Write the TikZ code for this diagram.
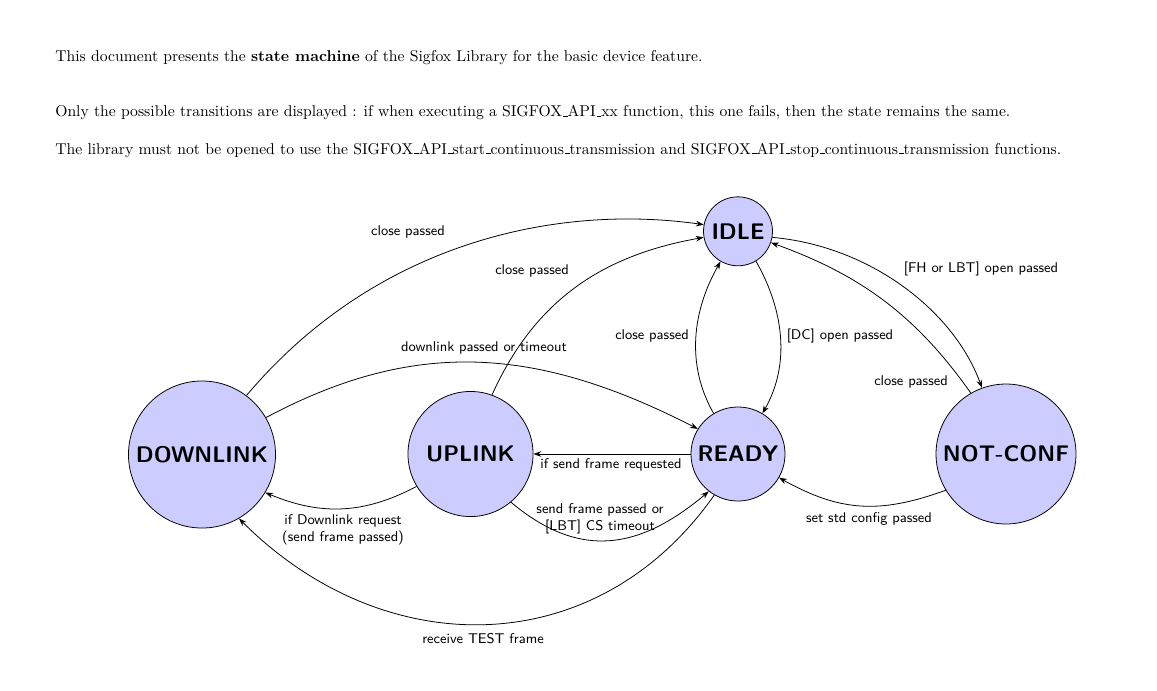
\documentclass[tikz,border=0pt]{standalone}
\usetikzlibrary{arrows.meta}
\newcommand\myus{\leavevmode\kern.06em\vbox{\hrule width.3em}}
\begin{document}
\begin{tikzpicture}[x=0.638pt,y=-0.638pt,
  stnode/.style={circle,draw,line width=0.5pt,fill=blue!20,font=\sffamily\bfseries\Large,inner sep=0pt},
  edge/.style={line width=0.5pt,-{Stealth[length=5pt,width=3.6pt]}},
  lbl/.style={font=\sffamily\small,inner sep=1pt},
  txt/.style={anchor=base west,inner sep=0pt,font=\normalsize}]
\useasboundingbox (0,0) rectangle (1157,690);
% header text
\node[txt] (t1) at (55,61) {This document presents the \textbf{state machine} of the Sigfox Library for the basic device feature.};
\node[txt] (t2) at (55,116.5) {Only the possible transitions are displayed : if when executing a SIGFOX\myus API\myus xx function, this one fails, then the state remains the same.};
\node[txt] (t3) at (55,154) {The library must not be opened to use the SIGFOX\myus API\myus start\myus continuous\myus transmission and SIGFOX\myus API\myus stop\myus continuous\myus transmission functions.};
% states
\node[stnode,minimum size=93.8pt] (D) at (202,454.5) {DOWNLINK};
\node[stnode,minimum size=79.8pt] (U) at (470.5,454) {UPLINK};
\node[stnode,minimum size=60pt] (R) at (738,454) {READY};
\node[stnode,minimum size=44pt] (I) at (738,231.3) {IDLE};
\node[stnode,minimum size=89.3pt] (N) at (1006,454) {NOT-CONF};
% transitions
\draw[edge] (D.53) .. controls +(129,-153) and +(-148,-21) .. (I.169)
  node[lbl] at (408,232) {close passed};
\draw[edge] (U.70) .. controls +(45,-100) and +(-95,17) .. (I.190)
  node[lbl] at (532,271) {close passed};
\draw[edge] (D.30) .. controls +(150,-80) and +(-160,-82) .. (R.148)
  node[lbl] at (484,348) {downlink passed or timeout};
\draw[edge] (R.180) -- (U.0)
  node[lbl] at (611,465) {if send frame requested};
\draw[edge] (U.211) .. controls +(-53,28) and +(55,23) .. (D.329)
  node[lbl,align=center] at (343,530) {if Downlink request\\(send frame passed)};
\draw[edge] (U.310) .. controls +(69,58) and +(-69,58) .. (R.232)
  node[lbl,align=center] at (600,519) {send frame passed or\\{[LBT]} CS timeout};
\draw[edge] (R.240) .. controls +(-118,168) and +(145,145) .. (D.300)
  node[lbl] at (483,639) {receive TEST frame};
\draw[edge] (R.121) .. controls +(-28,-49) and +(-28,49) .. (I.240)
  node[lbl] at (652,336) {close passed};
\draw[edge] (I.301) .. controls +(28,49) and +(28,-49) .. (R.59)
  node[lbl] at (840,336) {[DC] open passed};
\draw[edge] (I.350) .. controls +(100,9) and +(-27,-75) .. (N.110)
  node[lbl] at (981,269) {[FH or LBT] open passed};
\draw[edge] (N.120) .. controls +(-55,-78) and +(89,32) .. (I.341)
  node[lbl] at (911,382) {close passed};
\draw[edge] (N.211) .. controls +(-66,24) and +(61,34) .. (R.330)
  node[lbl] at (869,519) {set std config passed};
\end{tikzpicture}
\end{document}
